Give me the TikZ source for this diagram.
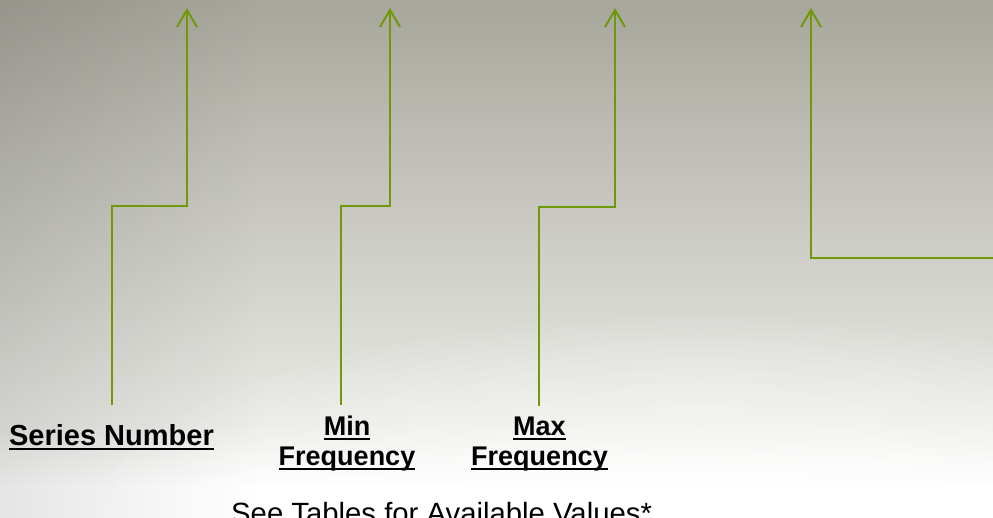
\documentclass[tikz,border=0pt]{standalone}
\usepackage{fontspec}
\setmainfont{Liberation Sans}
\usetikzlibrary{arrows.meta,fadings}
\definecolor{lgreen}{RGB}{112,153,10}
\definecolor{bgA}{RGB}{166,166,156}
\definecolor{bgB}{RGB}{190,190,182}
\definecolor{bgC}{RGB}{214,214,208}
\definecolor{bgD}{RGB}{234,234,230}
\pgfdeclareverticalshading{bgshade}{100bp}{color(0bp)=(white); color(25bp)=(white); color(28bp)=(white); color(34bp)=(bgD); color(46bp)=(bgC); color(61bp)=(bgB); color(75bp)=(bgA); color(100bp)=(bgA)}
\tikzfading[name=softglow, inner color=transparent!0, outer color=transparent!100]
\newcommand\myul[1]{\setbox0\hbox{#1}\rlap{\rule[-4.7pt]{\wd0}{1.5pt}}\box0}
\tikzset{
  link/.style={draw=lgreen, line width=2pt, -{Straight Barb[length=17pt,width=20pt]}},
  bigtxt/.style={inner sep=0pt, font=\fontsize{29}{30}\selectfont\bfseries},
  midtxt/.style={inner sep=0pt, font=\fontsize{27}{30}\selectfont\bfseries},
  notetxt/.style={inner sep=0pt, font=\fontsize{29.3}{32}\selectfont}
}
\begin{document}
\begin{tikzpicture}[x=1pt,y=-1pt]
\useasboundingbox (0,0) rectangle (993,518);
\clip (0,0) rectangle (993,518);
% background
\shade[shading=bgshade] (0,0) rectangle (993,518);
\fill[black, path fading=east, opacity=0.10] (0,0) rectangle (260,518);
\fill[white, path fading=softglow, fit fading=true, opacity=0.9] (700,540) ellipse [x radius=650, y radius=230];
% labels
\node[bigtxt, anchor=base] (sn) at (111.5,445) {\myul{Series Number}};
\node[midtxt, anchor=base] (min1) at (347,435) {\myul{Min}};
\node[midtxt, anchor=base] (min2) at (347,465) {\myul{Frequency}};
\node[midtxt, anchor=base] (max1) at (539.5,435) {\myul{Max}};
\node[midtxt, anchor=base] (max2) at (539.5,465) {\myul{Frequency}};
\node[notetxt, anchor=base west] (note) at (231,523) {See Tables for Available Values*};
% free ends
\coordinate (tip1) at (187,8);
\coordinate (tip2) at (390,8);
\coordinate (tip3) at (615,8);
\coordinate (tip4) at (811,8);
\coordinate (edge4) at (1000,258);
% connectors
\draw[link] ([yshift=18.3pt]sn.north) -- ++(0,-199) -| (tip1);
\draw[link] ([xshift=-6pt,yshift=10.7pt]min1.north) -- ++(0,-199) -| (tip2);
\draw[link] ([xshift=-0.5pt,yshift=10.7pt]max1.north) -- ++(0,-199) -| (tip3);
\draw[link] (edge4) -| (tip4);
\end{tikzpicture}
\end{document}
